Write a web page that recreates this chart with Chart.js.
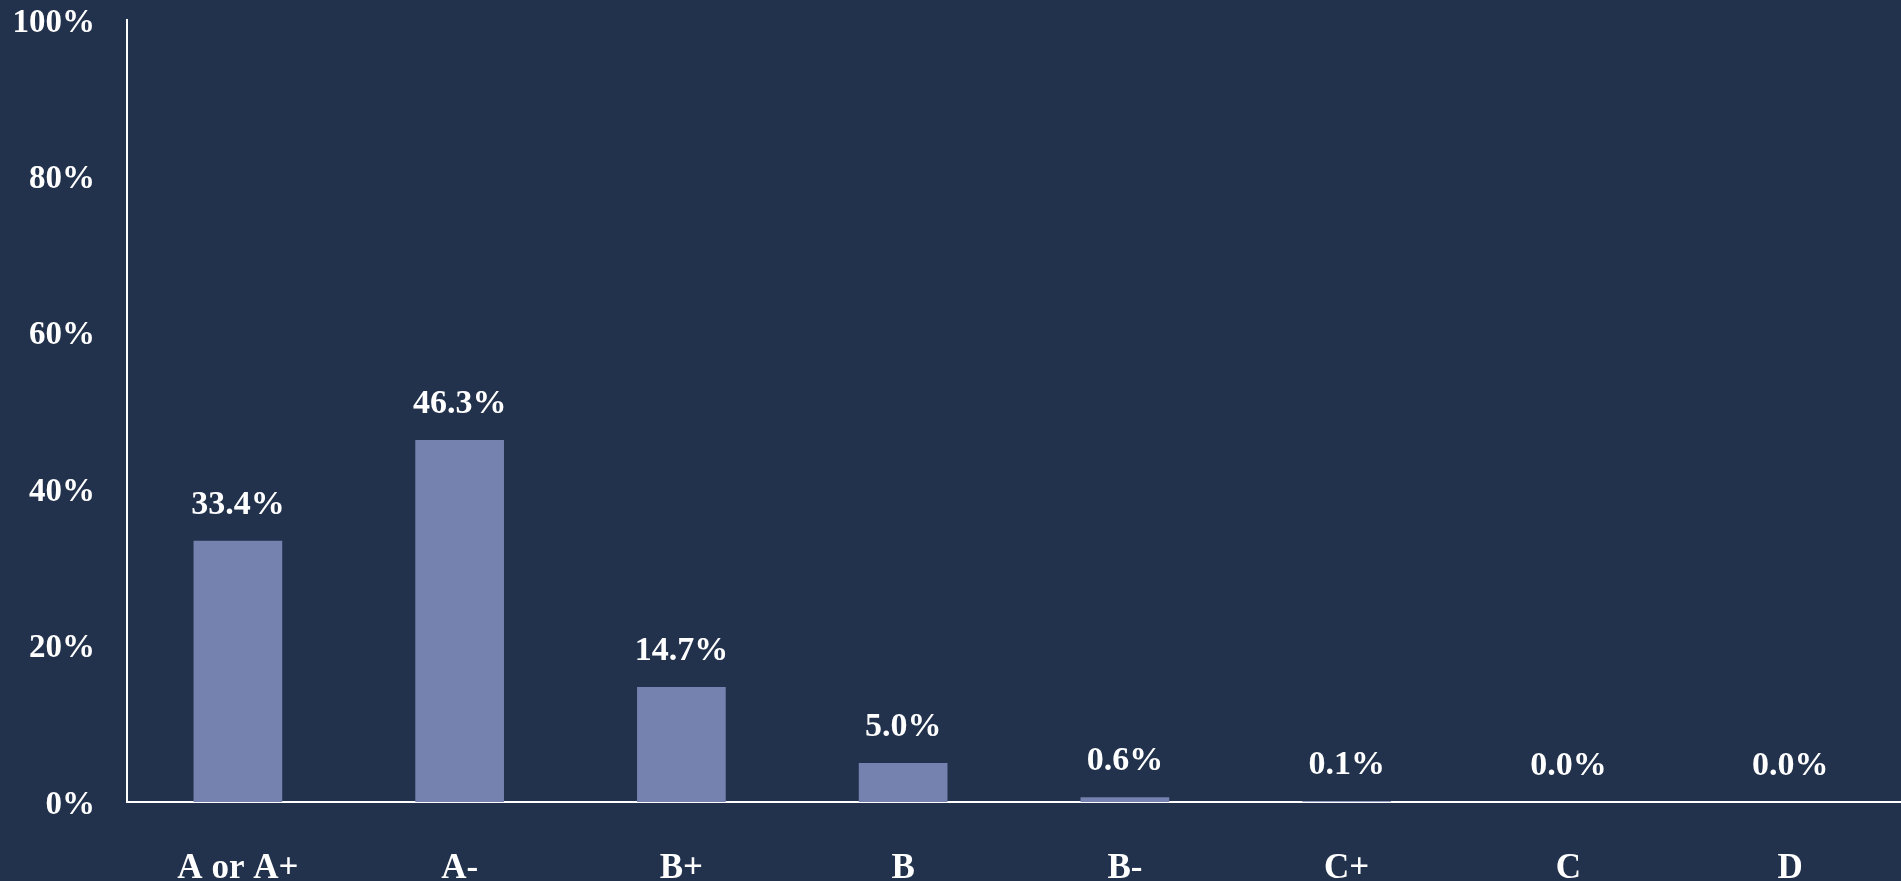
<!DOCTYPE html>
<html>
<head>
<meta charset="utf-8">
<script src="https://cdn.jsdelivr.net/npm/chart.js@4/dist/chart.umd.min.js"></script>
<style>
  html, body { margin: 0; padding: 0; background: #22324d; overflow: hidden; }
  #wrap { width: 1901px; height: 881px; position: relative; }
</style>
</head>
<body>
<div id="wrap"><canvas id="grades"></canvas></div>
<script>
// grade buckets and share of students
const grades = ["A or A+", "A-", "B+", "B", "B-", "C+", "C", "D"];
const shares = [33.4, 46.3, 14.7, 5.0, 0.6, 0.1, 0.0, 0.0];
const yTicks = [0, 20, 40, 60, 80, 100];

const serif = "'Liberation Serif', 'DejaVu Serif', serif";

// draws the value above each bar
const valueLabels = {
  id: 'valueLabels',
  afterDatasetsDraw(chart) {
    const ctx = chart.ctx;
    const meta = chart.getDatasetMeta(0);
    ctx.save();
    ctx.fillStyle = '#ffffff';
    ctx.font = 'bold 34px ' + serif;
    ctx.textAlign = 'center';
    ctx.textBaseline = 'middle';
    meta.data.forEach((bar, i) => {
      ctx.fillText(shares[i].toFixed(1) + '%', bar.x, bar.y - 36);
    });
    ctx.restore();
  }
};

new Chart(document.getElementById('grades'), {
  type: 'bar',
  data: {
    labels: grades,
    datasets: [{
      data: shares,
      backgroundColor: '#7581ae',
      borderWidth: 0,
      barPercentage: 0.4,
      categoryPercentage: 1.0
    }]
  },
  options: {
    responsive: true,
    maintainAspectRatio: false,
    animation: false,
    layout: { autoPadding: false, padding: { left: 0, top: 20, right: 0, bottom: 0 } },
    plugins: { legend: { display: false }, tooltip: { enabled: false } },
    scales: {
      x: {
        afterFit(scale) {
          scale.height = 79;
          scale.paddingLeft = 0;
          scale.paddingRight = 0;
        },
        grid: { display: false, drawTicks: false },
        border: { display: true, color: '#ffffff', width: 2 },
        ticks: {
          color: '#ffffff',
          padding: 46,
          maxRotation: 0,
          font: { family: serif, size: 35, weight: 'bold' }
        }
      },
      y: {
        min: 0,
        max: 100,
        afterFit(scale) {
          scale.width = 127;
          scale.paddingTop = 0;
          scale.paddingBottom = 0;
        },
        afterBuildTicks(axis) { axis.ticks = yTicks.map(v => ({ value: v })); },
        grid: { display: false, drawTicks: false },
        border: { display: true, color: '#ffffff', width: 2 },
        ticks: {
          color: '#ffffff',
          padding: 32,
          labelOffset: 3,
          callback: v => v + '%',
          font: { family: serif, size: 33, weight: 'bold' }
        }
      }
    }
  },
  plugins: [valueLabels]
});
</script>
</body>
</html>
